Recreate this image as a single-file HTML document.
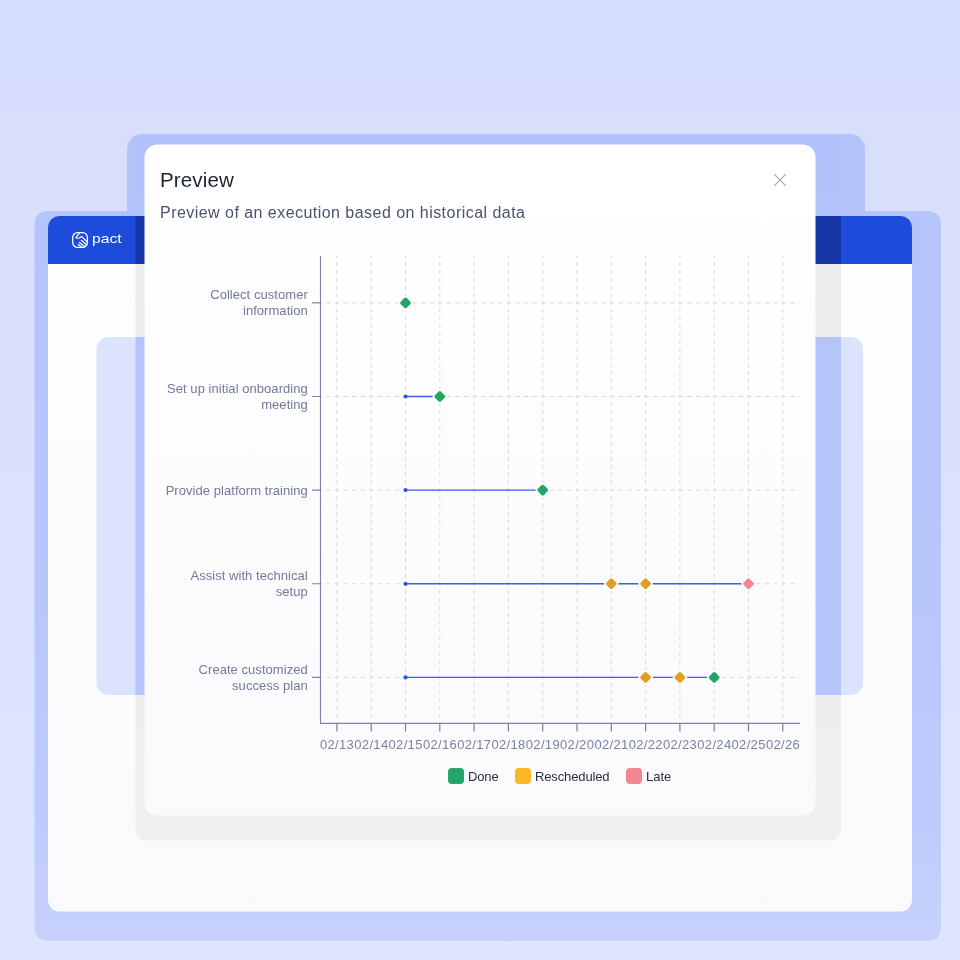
<!DOCTYPE html>
<html lang="en">
<head>
<meta charset="utf-8">
<title>Preview</title>
<style>
  html, body { margin: 0; padding: 0; }
  body {
    width: 960px; height: 960px; overflow: hidden; position: relative;
    font-family: "Liberation Sans", sans-serif;
    background: #d8dffe;
  }
  svg { display: block; }
  #backdrop, #chart { position: absolute; left: 0; top: 0; width: 960px; height: 960px; }
  #logo-text {
    position: absolute; left: 92.2px; top: 229.2px; height: 20px; line-height: 20px;
    font-size: 13.4px; color: #fff; letter-spacing: 0; white-space: nowrap;
    transform: scaleX(1.17); transform-origin: 0 50%; will-change: transform;
  }
  #title {
    position: absolute; left: 160px; top: 166px; height: 28px; line-height: 28px;
    font-size: 20.5px; color: #1e2332; white-space: nowrap; letter-spacing: 0.15px; will-change: transform;
  }
  #subtitle {
    position: absolute; left: 160px; top: 201.8px; height: 22px; line-height: 22px;
    font-size: 16px; color: #4b546b; white-space: nowrap; letter-spacing: 0.46px; will-change: transform;
  }
  .ylab { font-size: 13px; fill: #717a9d; text-anchor: end; letter-spacing: 0.05px; }
  .xlab { font-size: 13px; fill: #7a82a6; text-anchor: middle; letter-spacing: 0.33px; }
  .leg  { font-size: 13px; fill: #2b3041; }
  .tight { letter-spacing: -0.13px; }
</style>
</head>
<body>

<svg id="backdrop" width="960" height="960" viewBox="0 0 960 960">
  <defs>
    <linearGradient id="gBg" gradientUnits="userSpaceOnUse" x1="0" y1="0" x2="0" y2="960">
      <stop offset="0" stop-color="#d6defd"/>
      <stop offset="1" stop-color="#dfe5ff"/>
    </linearGradient>
    <linearGradient id="gFrame" gradientUnits="userSpaceOnUse" x1="0" y1="134" x2="0" y2="941">
      <stop offset="0" stop-color="#b4c4fb"/>
      <stop offset="0.55" stop-color="#b7c6fb"/>
      <stop offset="0.85" stop-color="#bfcbfc"/>
      <stop offset="1" stop-color="#c7d1fc"/>
    </linearGradient>
    <linearGradient id="gFrameDark" gradientUnits="userSpaceOnUse" x1="0" y1="134" x2="0" y2="941">
      <stop offset="0" stop-color="#b1c1fb"/>
      <stop offset="1" stop-color="#c2cdfc"/>
    </linearGradient>
    <linearGradient id="gWin" gradientUnits="userSpaceOnUse" x1="0" y1="216" x2="0" y2="912">
      <stop offset="0" stop-color="#fefefe"/>
      <stop offset="1" stop-color="#fafafc"/>
    </linearGradient>
    <linearGradient id="gWinDark" gradientUnits="userSpaceOnUse" x1="0" y1="216" x2="0" y2="912">
      <stop offset="0" stop-color="#ebebed"/>
      <stop offset="1" stop-color="#f0f0f2"/>
    </linearGradient>
    <linearGradient id="gModal" gradientUnits="userSpaceOnUse" x1="0" y1="144" x2="0" y2="816">
      <stop offset="0" stop-color="#ffffff"/>
      <stop offset="0.4" stop-color="#fdfdfe"/>
      <stop offset="1" stop-color="#fafafc"/>
    </linearGradient>
    <clipPath id="cWin"><rect x="48" y="216" width="864" height="695.5" rx="11.5" ry="11.5"/></clipPath>
    <clipPath id="cOverlay"><rect x="135.5" y="135.5" width="705.5" height="705" rx="11" ry="11"/></clipPath>
  </defs>

  <!-- page background -->
  <rect x="0" y="0" width="960" height="960" fill="url(#gBg)"/>

  <!-- periwinkle frame (union of two rounded rects) -->
  <g id="frame">
    <rect x="127" y="134" width="738" height="120" rx="15" ry="15" fill="url(#gFrame)"/>
    <rect x="34.5" y="211" width="906.5" height="730" rx="12.5" ry="12.5" fill="url(#gFrame)"/>
  </g>

  <!-- app window -->
  <g clip-path="url(#cWin)">
    <rect x="48" y="216" width="864" height="696" fill="url(#gWin)"/>
    <rect x="48" y="216" width="864" height="48" fill="#1d4bdb"/>
    <rect x="96.5" y="337" width="766.5" height="358" rx="12" ry="12" fill="#dbe3fe"/>
  </g>

  <!-- dimmed overlay region: redraw underlying layers in darker tones (no overlapping shapes, avoids AA seams) -->
  <g clip-path="url(#cOverlay)">
    <rect x="127" y="134" width="738" height="60" rx="15" ry="15" fill="url(#gFrameDark)"/>
    <rect x="127" y="160" width="738" height="56" fill="url(#gFrameDark)"/>
    <rect x="120" y="216" width="740" height="48" fill="#1536a5"/>
    <rect x="120" y="264" width="740" height="73" fill="url(#gWinDark)"/>
    <rect x="120" y="337" width="740" height="358" fill="#b5c4fb"/>
    <rect x="120" y="695" width="740" height="160" fill="url(#gWinDark)"/>
  </g>

  <!-- modal card -->
  <rect x="144.5" y="144.5" width="671" height="671" rx="13" ry="13" fill="url(#gModal)"/>

  <!-- logo icon -->
  <g id="logo" fill="none" stroke="#ffffff" stroke-width="1.25" stroke-linecap="round" stroke-linejoin="round">
    <rect x="72.7" y="232.6" width="14.7" height="14.8" rx="4.8" ry="4.8"/>
    <path d="M79.5 233.1 L76.2 237.2 Q75.8 238.3 77.2 238.25 L79.2 238.0 L81.5 236.4 L87.1 241.8"/>
    <path d="M81.4 240.3 L86.2 244.5"/>
    <path d="M79.4 242.4 L84.5 246.6"/>
    <path d="M78.2 244.5 L81.9 247.2"/>
  </g>

  <!-- close icon -->
  <path d="M774.4 174.4 L785.6 185.6 M785.6 174.4 L774.4 185.6" fill="none" stroke="#a0a8bd" stroke-width="1.2" stroke-linecap="round"/>
</svg>

<div id="logo-text">pact</div>
<div id="title">Preview</div>
<div id="subtitle">Preview of an execution based on historical data</div>

<svg id="chart" width="960" height="960" viewBox="0 0 960 960">
  <g font-family="Liberation Sans, sans-serif">

    <!-- grid -->
    <g stroke="#d6d9e4" stroke-width="1" fill="none">
      <path stroke-dasharray="3.9 3.9" stroke-dashoffset="1.8" d="M336.9 256 V722.9 M371.2 256 V722.9 M405.5 256 V722.9 M439.8 256 V722.9 M474.1 256 V722.9 M508.4 256 V722.9 M542.7 256 V722.9 M577 256 V722.9 M611.3 256 V722.9 M645.6 256 V722.9 M679.9 256 V722.9 M714.2 256 V722.9 M748.5 256 V722.9 M782.8 256 V722.9"/>
      <path stroke-dasharray="4.3 4.3" stroke-dashoffset="2.8" d="M320.5 302.9 H800 M320.5 396.5 H800 M320.5 490.1 H800 M320.5 583.8 H800 M320.5 677.4 H800"/>
    </g>

    <!-- axes -->
    <g stroke="#7d84a8" fill="none">
      <path stroke-width="1.15" d="M320.5 256 V723.4 H800"/>
      <path stroke-width="1.1" d="M312 302.9 H320.5 M312 396.5 H320.5 M312 490.1 H320.5 M312 583.8 H320.5 M312 677.4 H320.5"/>
      <path stroke-width="1.25" d="M336.9 723.4 V731.6 M371.2 723.4 V731.6 M405.5 723.4 V731.6 M439.8 723.4 V731.6 M474.1 723.4 V731.6 M508.4 723.4 V731.6 M542.7 723.4 V731.6 M577 723.4 V731.6 M611.3 723.4 V731.6 M645.6 723.4 V731.6 M679.9 723.4 V731.6 M714.2 723.4 V731.6 M748.5 723.4 V731.6 M782.8 723.4 V731.6"/>
    </g>

    <!-- y labels -->
    <g class="ylab">
        <text x="307.8" y="299.2">Collect customer</text>
        <text x="307.8" y="315.2">information</text>
        <text x="307.8" y="392.8">Set up initial onboarding</text>
        <text x="307.8" y="408.8">meeting</text>
        <text x="307.8" y="495">Provide platform training</text>
        <text x="307.8" y="580.1">Assist with technical</text>
        <text x="307.8" y="596.1">setup</text>
        <text x="307.8" y="673.7">Create customized</text>
        <text x="307.8" y="689.7">success plan</text>
    </g>

    <!-- x labels -->
    <g class="xlab">
        <text x="337.07" y="749.1">02/13</text>
        <text x="371.37" y="749.1">02/14</text>
        <text x="405.67" y="749.1">02/15</text>
        <text x="439.97" y="749.1">02/16</text>
        <text x="474.27" y="749.1">02/17</text>
        <text x="508.57" y="749.1">02/18</text>
        <text x="542.87" y="749.1">02/19</text>
        <text x="577.17" y="749.1">02/20</text>
        <text x="611.47" y="749.1">02/21</text>
        <text x="645.77" y="749.1">02/22</text>
        <text x="680.07" y="749.1">02/23</text>
        <text x="714.37" y="749.1">02/24</text>
        <text x="748.67" y="749.1">02/25</text>
        <text x="782.97" y="749.1">02/26</text>
    </g>

    <!-- series lines -->
    <g stroke="#3560ee" stroke-width="1.4" fill="none">
        <path d="M405.5 396.5 H439.8"/>
        <path d="M405.5 490.1 H542.7"/>
        <path d="M405.5 583.8 H748.5"/>
        <path d="M405.5 677.4 H714.2"/>
    </g>
    <g fill="#2a55ea">
        <circle cx="405.5" cy="396.5" r="2.1"/>
        <circle cx="405.5" cy="490.1" r="2.1"/>
        <circle cx="405.5" cy="583.8" r="2.1"/>
        <circle cx="405.5" cy="677.4" r="2.1"/>
    </g>

    <!-- markers -->
    <defs>
      <rect id="dm" x="-4.3" y="-4.3" width="8.6" height="8.6" rx="1.8" ry="1.8" transform="rotate(45)"/>
    </defs>
    <g stroke="#fdfdfe" stroke-width="3.4" paint-order="stroke">
        <use href="#dm" x="405.5" y="302.9" fill="#22a565"/>
        <use href="#dm" x="439.8" y="396.5" fill="#22a565"/>
        <use href="#dm" x="542.7" y="490.1" fill="#22a565"/>
        <use href="#dm" x="611.3" y="583.8" fill="#dfa021"/>
        <use href="#dm" x="645.6" y="583.8" fill="#dfa021"/>
        <use href="#dm" x="748.5" y="583.8" fill="#f4868d"/>
        <use href="#dm" x="645.6" y="677.4" fill="#dfa021"/>
        <use href="#dm" x="679.9" y="677.4" fill="#dfa021"/>
        <use href="#dm" x="714.2" y="677.4" fill="#22a565"/>
    </g>

    <!-- legend -->
    <rect x="448" y="768" width="16" height="16" rx="4" ry="4" fill="#22a565"/>
    <text class="leg tight" x="468" y="780.5">Done</text>
    <rect x="515" y="768" width="16" height="16" rx="4" ry="4" fill="#fab825"/>
    <text class="leg tight" x="535" y="780.5">Rescheduled</text>
    <rect x="626" y="768" width="16" height="16" rx="4" ry="4" fill="#f4868d"/>
    <text class="leg" x="646" y="780.5">Late</text>
  </g>
</svg>

</body>
</html>
